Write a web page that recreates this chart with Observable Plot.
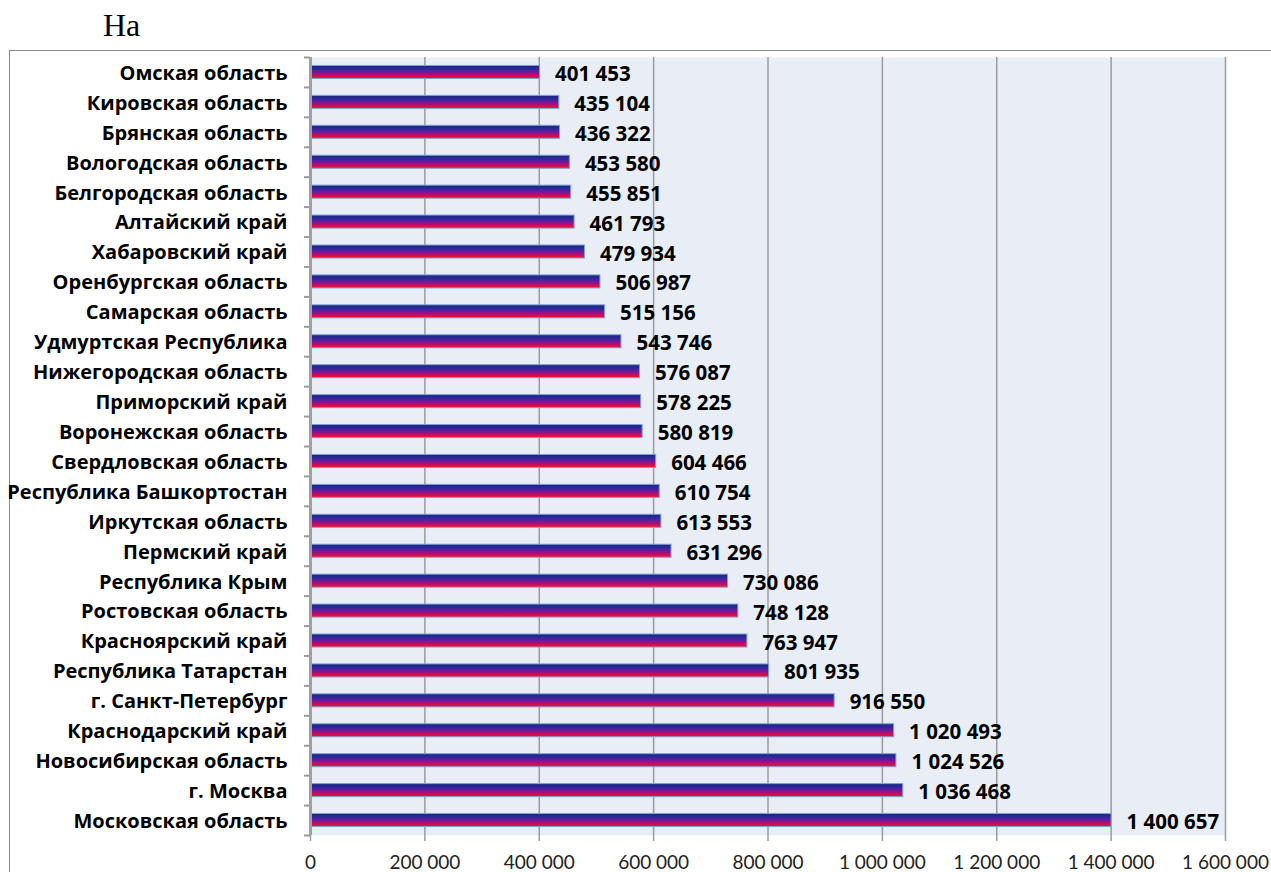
<!DOCTYPE html>
<html><head><meta charset="utf-8">
<script src="https://cdn.jsdelivr.net/npm/d3@7"></script>
<script src="https://cdn.jsdelivr.net/npm/@observablehq/plot@0.6"></script>
<style>
html,body{margin:0;padding:0;background:#fff;overflow:hidden;width:1271px;height:872px;}
#title{position:absolute;left:103px;top:9px;font:32px/32px "Liberation Serif","Times New Roman",serif;color:#000;}
#box{position:absolute;left:9px;top:50px;width:1400px;height:1000px;border:1px solid #8a8a8a;box-sizing:border-box;}
#chart{position:absolute;left:0;top:0;}
#chart g[aria-label="x-axis tick label"]{fill:#222;font-family:Lato,sans-serif;}
#chart g[aria-label="y-axis tick label"]{fill:#000;font-weight:bold;font-family:"Open Sans",sans-serif;}
</style></head><body>
<div id="title">На</div><div id="box"></div><div id="chart"></div>
<script>
const regions = ["Омская область","Кировская область","Брянская область","Вологодская область","Белгородская область","Алтайский край","Хабаровский край","Оренбургская область","Самарская область","Удмуртская Республика","Нижегородская область","Приморский край","Воронежская область","Свердловская область","Республика Башкортостан","Иркутская область","Пермский край","Республика Крым","Ростовская область","Красноярский край","Республика Татарстан","г. Санкт-Петербург","Краснодарский край","Новосибирская область","г. Москва","Московская область"];
const populations = [401453,435104,436322,453580,455851,461793,479934,506987,515156,543746,576087,578225,580819,604466,610754,613553,631296,730086,748128,763947,801935,916550,1020493,1024526,1036468,1400657];
const xTicks = [0,200000,400000,600000,800000,1000000,1200000,1400000,1600000];

const fmt = v => d3.format(",")(v).replace(/,/g, " ");
const data = regions.map((r, i) => ({region: r, value: populations[i]}));
const W = 1271, H = 872, mt = 57, mb = 37, ml = 310, mr = 46;
const step = (H - mt - mb) / regions.length;
const gray = "#9b9b9b";

const chart = Plot.plot({
  width: W, height: H, marginTop: mt, marginBottom: mb, marginLeft: ml, marginRight: mr,
  style: {fontFamily: "Lato, sans-serif", background: "transparent", overflow: "visible"},
  x: {domain: [0, 1600000]},
  y: {domain: regions, paddingInner: 0.565, paddingOuter: 0.2825, round: false},
  marks: [
    Plot.frame({fill: "#e9edf5", stroke: null}),
    Plot.gridX(xTicks.slice(1), {stroke: gray, strokeOpacity: 1, strokeWidth: 1.5}),
    Plot.axisX(xTicks, {tickSize: 6, tickPadding: 14, tickFormat: fmt, fontSize: 19, stroke: gray, strokeWidth: 1.5, label: null}),
    Plot.axisY({tickSize: 0, tickPadding: 23, fontSize: 20, dy: 1, label: null}),
    Plot.axisY(regions, {tickSize: 6, text: null, dy: step / 2, stroke: gray, strokeWidth: 2, label: null}),
    Plot.axisY([regions[0]], {tickSize: 6, text: null, dy: -step / 2, stroke: gray, strokeWidth: 2, label: null}),
    Plot.barX(data, {x: "value", y: "region", fill: "url(#barGrad)", stroke: "#7aa3d6", strokeWidth: 1}),
    Plot.ruleX([0], {stroke: "#a0a0a0", strokeWidth: 3}),
    Plot.text(data, {x: "value", y: "region", text: d => fmt(d.value), dx: 15, dy: 2, textAnchor: "start", fontFamily: "Open Sans, sans-serif", fontSize: 20.5, fontWeight: "bold", fill: "#000"})
  ]
});

const svg = d3.select(chart);
const grad = svg.insert("defs", ":first-child").append("linearGradient")
  .attr("id", "barGrad").attr("x1", 0).attr("y1", 0).attr("x2", 0).attr("y2", 1);
[[0, "#1a237e"], [0.25, "#2a2a98"], [0.5, "#6a1aa0"], [0.75, "#c00c64"], [1, "#ff1020"]].forEach(([o, c]) =>
  grad.append("stop").attr("offset", o).attr("stop-color", c));
document.getElementById("chart").appendChild(chart);
</script>
</body></html>
